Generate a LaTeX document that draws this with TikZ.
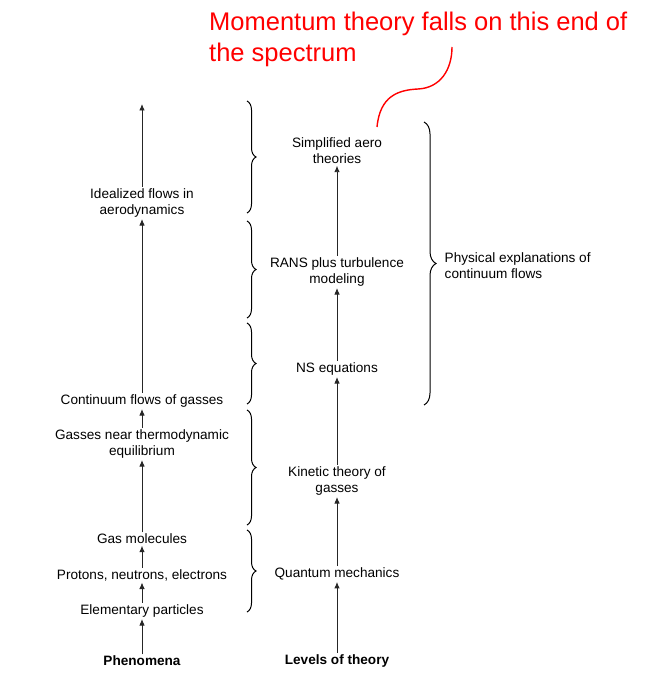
\documentclass[tikz,border=0pt]{standalone}
\usepackage{fontspec}
\setmainfont{Liberation Sans}
\usepackage{tikz}
\usetikzlibrary{arrows.meta}
\usetikzlibrary{decorations.pathreplacing}

\begin{document}
\begin{tikzpicture}[x=1pt,y=-1pt,
	level/.style={align=center,inner sep=1.5pt,font=\fontsize{13.6}{16}\selectfont},
	up/.style={line width=0.9,color=black!85,-{Latex[length=6.5pt,width=5.5pt]}},
	brc/.style={line width=1,decorate,decoration={brace,amplitude=9pt}}]

	\useasboundingbox (0,0) rectangle (645,679);

	% phenomena

	\node[level] (ideal) at (142,203) {Idealized flows in\\aerodynamics};
	\node[level] (cont) at (142,401) {Continuum flows of gasses};
	\node[level] (equil) at (142,444) {Gasses near thermodynamic\\equilibrium};
	\node[level] (molec) at (142,539) {Gas molecules};
	\node[level] (proton) at (142,575) {Protons, neutrons, electrons};
	\node[level] (elem) at (142,611) {Elementary particles};
	\node[level,font=\fontsize{13.6}{16}\selectfont\bfseries] (phen) at (142,661) {Phenomena};
	\coordinate (phentop) at (142,104);

	\draw[up] (phen) -- (elem);
	\draw[up] (elem) -- (proton);
	\draw[up] (proton) -- (molec);
	\draw[up] (molec) -- (equil);
	\draw[up] (equil) -- (cont);
	\draw[up] (cont) -- (ideal);
	\draw[up] (ideal) -- (phentop);

	% levels of theory

	\node[level] (simple) at (337,151) {Simplified aero\\theories};
	\node[level] (rans) at (337,272) {RANS plus turbulence\\modeling};
	\node[level] (ns) at (337,369) {NS equations};
	\node[level] (kinetic) at (337,481) {Kinetic theory of\\gasses};
	\node[level] (quantum) at (337,574) {Quantum mechanics};
	\node[level,font=\fontsize{13.6}{16}\selectfont\bfseries] (levels) at (337,661) {Levels of theory};

	\draw[up] (levels) -- (quantum);
	\draw[up] (quantum) -- (kinetic);
	\draw[up] (kinetic) -- (ns);
	\draw[up] (ns) -- (rans);
	\draw[up] (rans) -- (simple);

	% braces

	\draw[brc] (247,101) -- (247,213);
	\draw[brc] (247,221) -- (247,318);
	\draw[brc] (247,323) -- (247,404);
	\draw[brc] (247,410) -- (247,525);
	\draw[brc] (247,530) -- (247,612);

	\draw[brc,decoration={amplitude=12pt}] (424,122) -- (424,405);
	\node[level,align=left,anchor=west] (phys) at (443,266) {Physical explanations of\\continuum flows};

	% momentum theory note

	\node[align=left,anchor=north west,inner sep=0,color=red,
		font=\fontsize{25.5}{30.5}\selectfont] (note) at (209,12) {Momentum theory falls on this end of\\the spectrum};
	\coordinate (notefoot) at (452,47);
	\coordinate (simpletop) at (377,127);
	\draw[line width=1.4,color=red] (simpletop) .. controls (380,96) and (398,90) .. (418,89)
		.. controls (440,88) and (452,70) .. (notefoot);

\end{tikzpicture}
\end{document}
